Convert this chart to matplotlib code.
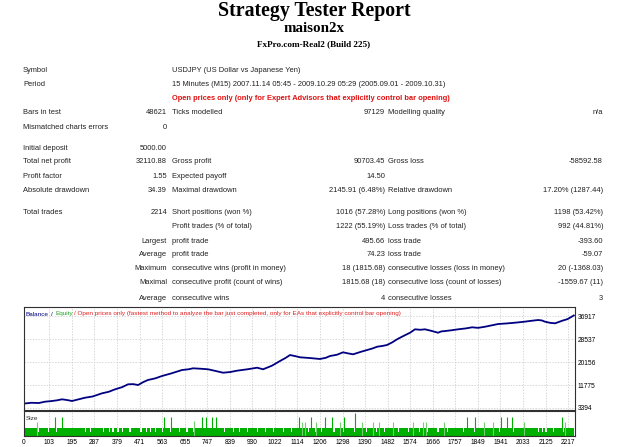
import matplotlib
matplotlib.use("Agg")
import matplotlib.pyplot as plt
import numpy as np

# report header
title = "Strategy Tester Report"
expert = "maison2x"
server = "FxPro.com-Real2 (Build 225)"

# report table rows: (y pixel, col1, col2, col3, col4, col5, col6)
rows = [
    (70, "Symbol", "", "USDJPY (US Dollar vs Japanese Yen)", "", "", ""),
    (84, "Period", "", "15 Minutes (M15) 2007.11.14 05:45 - 2009.10.29 05:29 (2005.09.01 - 2009.10.31)", "", "", ""),
    (113, "Bars in test", "48621", "Ticks modelled", "97129", "Modelling quality", "n/a"),
    (127, "Mismatched charts errors", "0", "", "", "", ""),
    (148, "Initial deposit", "5000.00", "", "", "", ""),
    (162, "Total net profit", "32110.88", "Gross profit", "90703.45", "Gross loss", "-58592.58"),
    (177, "Profit factor", "1.55", "Expected payoff", "14.50", "", ""),
    (191, "Absolute drawdown", "34.39", "Maximal drawdown", "2145.91 (6.48%)", "Relative drawdown", "17.20% (1287.44)"),
    (212, "Total trades", "2214", "Short positions (won %)", "1016 (57.28%)", "Long positions (won %)", "1198 (53.42%)"),
    (226, "", "", "Profit trades (% of total)", "1222 (55.19%)", "Loss trades (% of total)", "992 (44.81%)"),
    (241, "", "Largest", "profit trade", "495.66", "loss trade", "-393.60"),
    (255, "", "Average", "profit trade", "74.23", "loss trade", "-59.07"),
    (269, "", "Maximum", "consecutive wins (profit in money)", "18 (1815.68)", "consecutive losses (loss in money)", "20 (-1368.03)"),
    (283, "", "Maximal", "consecutive profit (count of wins)", "1815.68 (18)", "consecutive loss (count of losses)", "-1559.67 (11)"),
    (298, "", "Average", "consecutive wins", "4", "consecutive losses", "3"),
]
model_text = "Open prices only (only for Expert Advisors that explicitly control bar opening)"

# balance curve (trade number, balance)
bal_trades = [0, 30, 60, 86, 110, 135, 155, 175, 196, 220, 249, 280, 318, 345, 371,
              400, 424, 445, 465, 485, 505, 535, 562, 600, 644, 670, 689, 720, 750,
              780, 811, 840, 868, 910, 950, 974, 1010, 1043, 1065, 1084, 1105, 1125,
              1165, 1206, 1230, 1247, 1275, 1300, 1320, 1341, 1370, 1398, 1420, 1439,
              1460, 1479, 1500, 1520, 1545, 1573, 1593, 1615, 1634, 1660, 1687, 1700,
              1716, 1740, 1769, 1800, 1826, 1850, 1879, 1905, 1932, 1965, 2001, 2035,
              2070, 2095, 2110, 2123, 2145, 2164, 2193, 2215, 2240]
balance = [5000, 5300, 5200, 5700, 5900, 6200, 6560, 6300, 5950, 6500, 7150, 7600, 8750,
           9300, 10200, 11000, 12030, 12100, 11770, 12800, 13600, 14200, 15050, 16000,
           17240, 17500, 17860, 17700, 17500, 16900, 16250, 16500, 16990, 17500, 18080,
           17500, 18800, 20520, 21600, 22700, 22300, 21870, 21600, 21250, 21700, 22340,
           22800, 23690, 23300, 22960, 23800, 24530, 25100, 25730, 26000, 26350, 27300,
           28430, 29600, 30830, 32070, 31900, 32070, 31500, 30830, 31300, 31450, 31700,
           32070, 32400, 32800, 32600, 33020, 33500, 34000, 34200, 34480, 34800, 35200,
           35460, 35300, 34840, 34400, 34260, 35200, 35800, 37111]

# trade size chart: usual lot, short runs of half lot, spikes
n_trades = 2240
base_size = 1.0
low_size = 0.5
low_ranges = [(58, 63), (98, 103), (131, 135), (154, 158), (249, 253), (271, 275),
              (300, 304), (322, 326), (345, 352), (360, 366), (380, 386), (398, 404),
              (430, 436), (474, 480), (498, 502), (512, 516), (534, 538), (563, 567),
              (596, 601), (632, 637), (662, 667), (688, 692), (815, 820), (852, 857),
              (878, 882), (910, 915), (951, 955), (983, 988), (1013, 1018), (1056, 1061),
              (1090, 1094), (1156, 1160), (1185, 1189), (1210, 1215), (1261, 1266),
              (1302, 1306), (1346, 1350), (1393, 1398), (1434, 1438), (1466, 1471),
              (1525, 1530), (1565, 1569), (1609, 1613), (1641, 1646), (1685, 1690),
              (1726, 1730), (1788, 1793), (1832, 1837), (1875, 1880), (1935, 1940),
              (1945, 1950), (1993, 1998), (2036, 2041), (2095, 2100), (2110, 2115),
              (2125, 2130), (2154, 2159), (2197, 2202)]
spike_trades = [52, 127, 155, 569, 600, 694, 724, 743, 768, 784, 1119, 1131, 1144, 1168,
                1188, 1226, 1255, 1286, 1302, 1348, 1377, 1422, 1446, 1503, 1585, 1626,
                1639, 1711, 1806, 1838, 1874, 1912, 1944, 1969, 1990, 2038, 2190, 2205]
spike_sizes = [1.7, 2.3, 2.3, 2.3, 2.3, 1.8, 2.3, 2.3, 2.3, 2.3, 2.3, 1.7, 1.7, 2.4,
               1.7, 2.3, 2.3, 1.7, 2.3, 2.8, 1.7, 1.7, 1.7, 1.7, 1.7, 1.7,
               1.7, 1.7, 2.3, 2.3, 1.7, 1.7, 2.3, 2.3, 2.3, 1.7, 2.3, 1.7]

x_ticks = [0, 103, 195, 287, 379, 471, 563, 655, 747, 839, 930, 1022, 1114, 1206, 1298,
           1390, 1482, 1574, 1666, 1757, 1849, 1941, 2033, 2125, 2217]
y_ticks = [3394, 11775, 20156, 28537, 36917]

W, H = 625, 447
fig = plt.figure(figsize=(W / 100, H / 100), dpi=100)


def put(x, y, s, **kw):
    fig.text(x / W, 1 - y / H, s, **kw)


tfont = dict(family="Liberation Sans", fontsize=5.4, color="#202020", va="center")

# header
put(314, 11, title, family="Liberation Serif", weight="bold", fontsize=14.3, ha="center", va="center")
put(314, 29, expert, family="Liberation Serif", weight="bold", fontsize=10.8, ha="center", va="center")
put(314, 44, server, family="Liberation Serif", weight="bold", fontsize=6.6, ha="center", va="center")

# table
for y, c1, c2, c3, c4, c5, c6 in rows:
    put(23, y, c1, ha="left", **tfont)
    put(167, y, c2, ha="right", **tfont)
    put(172, y, c3, ha="left", **tfont)
    put(385, y, c4, ha="right", **tfont)
    put(388, y, c5, ha="left", **tfont)
    put(603, y, c6, ha="right", **tfont)
put(172, 99, model_text, ha="left", va="center", family="Liberation Sans",
    fontsize=5.4, weight="bold", color="#e01010")

# balance chart
ax = fig.add_axes([24 / W, 1 - 410 / H, 551 / W, 103 / H])
ax.plot(bal_trades, balance, color="#000080", lw=1.3)
ax.set_xlim(0, 2245)
ax.set_ylim(2665, 40200)
ax.set_xticks(x_ticks)
ax.set_yticks(y_ticks)
ax.set_xticklabels([])
ax.yaxis.tick_right()
ax.set_yticklabels([str(v) for v in y_ticks], fontsize=4.8, family="Liberation Sans")
ax.tick_params(axis="both", length=0, pad=2)
ax.grid(True, color="#c8c8c8", ls=(0, (2, 2)), lw=0.5)
for s in ax.spines.values():
    s.set_color("#303030")
    s.set_linewidth(0.8)

# legend line at top of chart
lfont = dict(family="Liberation Sans", fontsize=4.6, va="center", ha="left")
put(26, 314, "Balance", color="#000080", **lfont)
put(51, 314, "/", color="#000080", **lfont)
put(56, 314, "Equity", color="#20a020", **lfont)
put(74, 314, "/ Open prices only (fastest method to analyze the bar just completed, "
    "only for EAs that explicitly control bar opening)", color="#e02020", **lfont)

# size chart
sizes = np.full(n_trades, base_size)
for a, b in low_ranges:
    sizes[a:b] = low_size

ax2 = fig.add_axes([24 / W, 1 - 436 / H, 551 / W, 25 / H])
ax2.set_axisbelow(True)
ax2.grid(True, axis="x", color="#c8c8c8", ls=(0, (2, 2)), lw=0.5)
ax2.bar(np.arange(n_trades), sizes, width=1.0, color="#00b000", lw=0)
for t, s in zip(spike_trades, spike_sizes):
    c = "#00b000" if s >= 2.0 else "#70d070"
    ax2.vlines(t, 0, s, color=c, lw=0.8)
ax2.set_xlim(0, 2245)
ax2.set_ylim(0, 3.1)
ax2.set_yticks([])
ax2.set_xticks(x_ticks)
ax2.set_xticklabels([str(v) for v in x_ticks], fontsize=4.8, family="Liberation Sans")
ax2.tick_params(axis="x", length=0, pad=2)
for s in ax2.spines.values():
    s.set_color("#303030")
    s.set_linewidth(0.8)
put(26, 418, "Size", color="#303030", **lfont)

fig.savefig("out.png", dpi=100)
